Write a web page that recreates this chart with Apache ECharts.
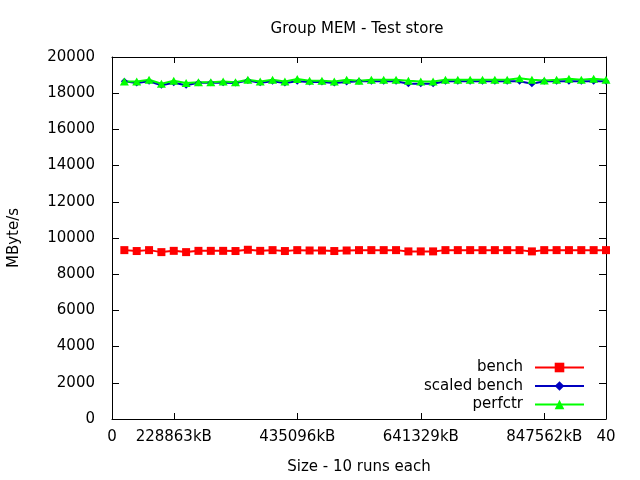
<!DOCTYPE html>
<html>
<head>
<meta charset="utf-8">
<script src="https://cdn.jsdelivr.net/npm/echarts@6/dist/echarts.min.js"></script>
<style>html,body{margin:0;padding:0;background:#fff;}#c{width:640px;height:480px;}</style>
</head>
<body>
<div id="c"></div>
<script>
var xValues = [1,2,3,4,5,6,7,8,9,10,11,12,13,14,15,16,17,18,19,20,21,22,23,24,25,26,27,28,29,30,31,32,33,34,35,36,37,38,39,40];
var bench = [9330,9280,9330,9220,9290,9220,9290,9290,9290,9280,9350,9290,9330,9280,9330,9310,9310,9280,9310,9330,9330,9330,9330,9260,9260,9260,9330,9330,9330,9330,9330,9330,9330,9260,9330,9330,9330,9330,9330,9330];
var scaledBench = [18660,18560,18660,18440,18580,18440,18580,18580,18580,18560,18700,18580,18660,18560,18660,18620,18620,18560,18620,18660,18660,18660,18660,18520,18520,18520,18660,18660,18660,18660,18660,18660,18660,18520,18660,18660,18660,18660,18660,18660];
var perfctr = [18650,18650,18740,18520,18690,18560,18610,18610,18650,18600,18740,18650,18740,18650,18780,18690,18690,18650,18740,18690,18740,18740,18740,18690,18650,18650,18740,18740,18740,18740,18740,18740,18820,18740,18700,18740,18800,18740,18800,18740];
var xTickValues = [0,5,15,25,35,40];
var xTickLabels = ["0","228863kB","435096kB","641329kB","847562kB","40"];
var seriesNames = ["bench","scaled bench","perfctr"];

var FONT = "DejaVu Sans";
var FS = 15;
function pairs(ys){ return xValues.map(function(x,i){ return [x, ys[i]]; }); }
var chart = echarts.init(document.getElementById('c'), null, {renderer:'canvas'});
function axisLine(){ return {show:true, onZero:false, lineStyle:{color:'#000', width:1}}; }
var opt = {
  animation:false,
  backgroundColor:'#fff',
  textStyle:{fontFamily:FONT},
  title:{text:'Group MEM - Test store', left:352, top:17, textAlign:'center',
    textStyle:{fontFamily:FONT, fontSize:FS, fontWeight:'normal', color:'#000'}},
  grid:{left:112, right:34, top:57, bottom:61, containLabel:false, outerBoundsMode:'none'},
  legend:{
    orient:'vertical', right:50, top:355, align:'right',
    itemWidth:49, itemHeight:12, itemGap:3.5,
    textStyle:{fontFamily:FONT, fontSize:FS, color:'#000', padding:[0,7,0,0]},
    data:seriesNames
  },
  xAxis:[
    {type:'value', min:0, max:40, position:'bottom',
      name:'Size - 10 runs each', nameLocation:'middle', nameGap:41,
      nameTextStyle:{fontFamily:FONT, fontSize:FS, color:'#000'},
      axisLine:axisLine(), splitLine:{show:false},
      axisTick:{show:true, inside:true, length:6, customValues:xTickValues, lineStyle:{color:'#000'}},
      axisLabel:{show:true, customValues:xTickValues, margin:11, fontFamily:FONT, fontSize:FS, color:'#000',
        formatter:function(v){ var i = xTickValues.indexOf(v); return i>=0 ? xTickLabels[i] : ''; }}
    },
    {type:'value', min:0, max:40, position:'top',
      axisLine:axisLine(), splitLine:{show:false},
      axisTick:{show:true, inside:true, length:6, customValues:xTickValues, lineStyle:{color:'#000'}},
      axisLabel:{show:false}
    }
  ],
  yAxis:[
    {type:'value', min:0, max:20000, interval:2000, position:'left',
      name:'MByte/s', nameLocation:'middle', nameGap:90, nameRotate:90,
      nameTextStyle:{fontFamily:FONT, fontSize:FS, color:'#000'},
      axisLine:axisLine(), splitLine:{show:false},
      axisTick:{show:true, inside:true, length:7, lineStyle:{color:'#000'}},
      axisLabel:{show:true, margin:17, fontFamily:FONT, fontSize:FS, color:'#000',
        formatter:function(v){ return String(v); }}
    },
    {type:'value', min:0, max:20000, interval:2000, position:'right',
      axisLine:axisLine(), splitLine:{show:false},
      axisTick:{show:true, inside:true, length:7, lineStyle:{color:'#000'}},
      axisLabel:{show:false}
    }
  ],
  series:[
    {name:seriesNames[0], type:'line', data:pairs(bench), xAxisIndex:0, yAxisIndex:0,
      symbol:'rect', symbolSize:8, showAllSymbol:true,
      lineStyle:{color:'#ff0000', width:2}, itemStyle:{color:'#ff0000'}},
    {name:seriesNames[1], type:'line', data:pairs(scaledBench), xAxisIndex:0, yAxisIndex:0,
      symbol:'diamond', symbolSize:7, showAllSymbol:true,
      lineStyle:{color:'#0000c0', width:2}, itemStyle:{color:'#0000c0'}},
    {name:seriesNames[2], type:'line', data:pairs(perfctr), xAxisIndex:0, yAxisIndex:0,
      symbol:'triangle', symbolSize:[9,8], showAllSymbol:true,
      lineStyle:{color:'#00ff00', width:2}, itemStyle:{color:'#00ff00'}}
  ]
};
chart.setOption(opt);
</script>
</body>
</html>
